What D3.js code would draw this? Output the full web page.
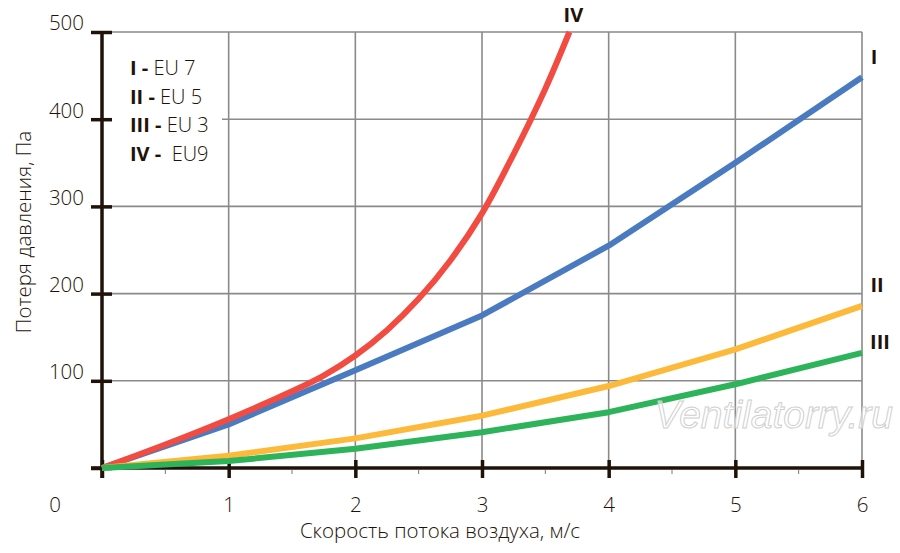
<!DOCTYPE html>
<html>
<head>
<meta charset="utf-8">
<script src="https://cdn.jsdelivr.net/npm/d3@7"></script>
<style>
  body { margin: 0; background: #fff; }
  svg text { font-family: "Open Sans", "Noto Sans", sans-serif; fill: #1e1209; font-weight: 300; }
</style>
</head>
<body>
<div id="chart"></div>
<script>
// air speed, m/s
let speed = [0, 1, 2, 3, 4, 5, 6];
// pressure loss, Pa
let eu7 = [0, 50, 112, 175, 255, 350, 448];
let eu5 = [0, 14, 34, 60, 94, 136, 186];
let eu3 = [0, 8, 22, 41, 64, 96, 132];
// EU9 leaves the chart before 4 m/s
let speedEu9 = [0, 0.5, 1, 1.5, 1.75, 2, 2.25, 2.5, 2.75, 3, 3.25, 3.5, 3.69];
let eu9 = [0, 27, 56, 88, 106, 129, 158, 194, 238, 292, 360, 435, 500];

let xTicks = [1, 2, 3, 4, 5, 6];
let yTicks = [100, 200, 300, 400, 500];
let legendRows = [["I", "EU 7"], ["II", "EU 5"], ["III", "EU 3"], ["IV", "\u00a0EU9"]];

var width = 900, height = 553;
var svg = d3.select('#chart')
    .append('svg')
    .attr('width', width)
    .attr('height', height);

var x = d3.scaleLinear().domain([0, 6]).range([102, 862]);
var y = d3.scaleLinear().domain([0, 500]).range([468, 32]);

// grid
var grid = svg.append('g').attr('stroke', '#8a8a8a').attr('stroke-width', 1.6);
grid.selectAll('.gx')
    .data(xTicks)
    .enter()
    .append('line')
    .attr('x1', d => x(d)).attr('x2', d => x(d))
    .attr('y1', y(500)).attr('y2', y(0));
grid.selectAll('.gy')
    .data(yTicks)
    .enter()
    .append('line')
    .attr('x1', x(0)).attr('x2', x(6))
    .attr('y1', d => y(d)).attr('y2', d => y(d));

// legend box hides the grid under it
svg.append('rect')
    .attr('x', x(0) + 2).attr('y', 48)
    .attr('width', 118).attr('height', 124)
    .attr('fill', '#fff');

// axes
var ink = '#1e1209';
var yAxis = d3.axisLeft(y).tickValues([0].concat(yTicks)).tickSize(0).tickFormat('');
var gy = svg.append('g').attr('transform', 'translate(' + x(0) + ',0)').call(yAxis);
gy.select('.domain').remove();
gy.selectAll('.tick line')
    .attr('x1', -11).attr('x2', 10)
    .attr('stroke', ink).attr('stroke-width', 3.5);
gy.selectAll('.tick')
    .filter(d => d > 0)
    .append('text')
    .attr('x', -18).attr('dy', '-0.1em')
    .attr('text-anchor', 'end')
    .style('font-size', '20.5px')
    .attr('fill', ink)
    .text(d => d);

var xAxis = d3.axisBottom(x).tickValues([0].concat(xTicks)).tickSize(0).tickFormat('');
var gx = svg.append('g').attr('transform', 'translate(0,' + y(0) + ')').call(xAxis);
gx.select('.domain').remove();
gx.selectAll('.tick line')
    .attr('y1', -8).attr('y2', 10)
    .attr('stroke', ink).attr('stroke-width', 3.5);
gx.selectAll('.tick')
    .filter(d => d > 0)
    .append('text')
    .attr('y', 44)
    .attr('text-anchor', 'middle')
    .style('font-size', '20.5px')
    .attr('fill', ink)
    .text(d => d);
gx.selectAll('.minor')
    .data(d3.range(0.5, 6, 1))
    .enter()
    .append('line')
    .attr('x1', d => x(d)).attr('x2', d => x(d))
    .attr('y1', 2).attr('y2', 6)
    .attr('stroke', '#777').attr('stroke-width', 1);

svg.append('line')
    .attr('x1', x(0)).attr('x2', x(0))
    .attr('y1', y(500)).attr('y2', y(0) + 10)
    .attr('stroke', ink).attr('stroke-width', 3.5);
svg.append('line')
    .attr('x1', x(0) - 11).attr('x2', x(6))
    .attr('y1', y(0)).attr('y2', y(0))
    .attr('stroke', ink).attr('stroke-width', 3.5);

svg.append('text')
    .attr('x', x(0) - 47).attr('y', y(0) + 44)
    .attr('text-anchor', 'middle')
    .style('font-size', '20.5px')
    .text('0');

// axis titles
svg.append('text')
    .attr('x', 440).attr('y', 538)
    .attr('text-anchor', 'middle')
    .style('font-size', '20.5px')
    .text('Скорость потока воздуха, м/с');
svg.append('text')
    .attr('transform', 'translate(31,232) rotate(-90)')
    .attr('text-anchor', 'middle')
    .style('font-size', '20.5px')
    .text('Потеря давления, Па');

// curves
var series = [
    { xs: speed, ys: eu7, color: '#4a7bc0', curve: d3.curveLinear },
    { xs: speedEu9, ys: eu9, color: '#f24b42', curve: d3.curveCatmullRom.alpha(0.5) },
    { xs: speed, ys: eu5, color: '#fdb93a', curve: d3.curveLinear },
    { xs: speed, ys: eu3, color: '#2db35a', curve: d3.curveLinear }
];
series.forEach(function (s) {
    var pts = s.xs.map((v, i) => [v, s.ys[i]]);
    svg.append('path')
        .datum(pts)
        .attr('fill', 'none')
        .attr('stroke', s.color)
        .attr('stroke-width', 6)
        .attr('stroke-linejoin', 'round')
        .attr('d', d3.line().x(d => x(d[0])).y(d => y(d[1])).curve(s.curve));
});

// curve labels
var labels = [
    { t: 'IV', sx: 3.69, v: 500, dx: 4, dy: -10 },
    { t: 'I', sx: 6, v: 448, dx: 12, dy: -13 },
    { t: 'II', sx: 6, v: 186, dx: 15, dy: -14 },
    { t: 'III', sx: 6, v: 132, dx: 18, dy: -4 }
];
svg.selectAll('.clabel')
    .data(labels)
    .enter()
    .append('text')
    .attr('x', d => x(d.sx) + d.dx)
    .attr('y', d => y(d.v) + d.dy)
    .attr('text-anchor', 'middle')
    .style('font-size', '20px')
    .style('font-weight', 'bold')
    .text(d => d.t);

// legend
var lg = svg.append('g');
legendRows.forEach(function (r, i) {
    var t = lg.append('text')
        .attr('x', 130).attr('y', 75 + i * 28.7)
        .style('font-size', '20px');
    t.append('tspan').style('font-weight', 'bold').text(r[0] + ' - ');
    t.append('tspan').text(r[1]);
});

// watermark
svg.append('text')
    .attr('x', 893).attr('y', 428)
    .attr('text-anchor', 'end')
    .style('font-family', '"Liberation Sans", Arial, sans-serif')
    .style('font-size', '39px')
    .style('font-style', 'italic')
    .style('font-weight', 'normal')
    .style('fill', 'rgba(255,255,255,0.6)')
    .attr('stroke', '#cfcfcf').attr('stroke-width', 1)
    .text('Ventilatorry.ru');
</script>
</body>
</html>
